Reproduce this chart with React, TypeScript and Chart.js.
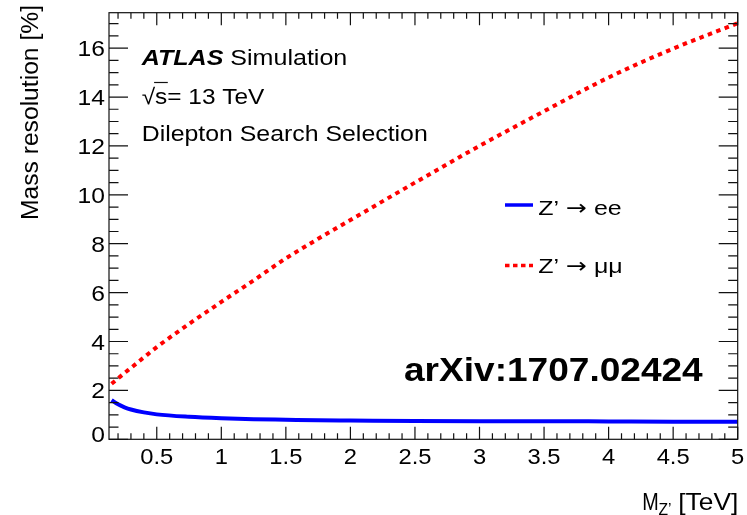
import React, { useEffect, useRef } from "react";
import { Chart, registerables } from "chart.js";

Chart.register(...registerables);

// ---- data ----
const massTeV = [0.15, 0.2, 0.25, 0.3, 0.4, 0.5, 0.75, 1.0, 1.25, 1.5, 1.75, 2.0, 2.5, 3.0, 3.5, 4.0, 4.5, 5.0];
const resEE = [1.6, 1.43, 1.31, 1.22, 1.1, 1.02, 0.92, 0.86, 0.82, 0.8, 0.78, 0.77, 0.75, 0.74, 0.74, 0.73, 0.72, 0.72];
const resMuMu = [2.27, 2.49, 2.71, 2.92, 3.35, 3.77, 4.72, 5.62, 6.5, 7.4, 8.2, 8.97, 10.5, 12.0, 13.42, 14.8, 15.98, 17.02];
const seriesLabels = ["Z\u2019 \u2192 ee", "Z\u2019 \u2192 \u03bc\u03bc"];
const legendParts = [
  ["Z\u2019 ", "\u2192", " ee"],
  ["Z\u2019 ", "\u2192", " \u03bc\u03bc"],
];
const xTickValues = [0.5, 1, 1.5, 2, 2.5, 3, 3.5, 4, 4.5, 5];
const xTickLabels = ["0.5", "1", "1.5", "2", "2.5", "3", "3.5", "4", "4.5", "5"];
const yTickValues = [0, 2, 4, 6, 8, 10, 12, 14, 16];
const yTickLabels = ["0", "2", "4", "6", "8", "10", "12", "14", "16"];
const xMinorStep = 0.1;
const yMinorStep = 0.5;
const xRange = [0.13, 5.0];
const yRange = [0, 17.45];

const FONT = '"Liberation Sans", Arial, Helvetica, sans-serif';
const ARROW_FONT = '"DejaVu Sans", sans-serif';
const BLUE = "#0000ff";
const RED = "#ff0000";

type Part = { text: string; font: string };

function drawParts(ctx: CanvasRenderingContext2D, parts: Part[], x: number, y: number, opts: { width?: number; sx?: number; align?: string }) {
  ctx.save();
  let total = 0;
  const ws = parts.map((p) => {
    ctx.font = p.font;
    const w = ctx.measureText(p.text).width;
    total += w;
    return w;
  });
  const s = opts.width ? opts.width / total : opts.sx || 1;
  ctx.translate(x, y);
  ctx.scale(s, 1);
  const align = opts.align || "left";
  let cx = align === "left" ? 0 : align === "right" ? -total : -total / 2;
  ctx.textAlign = "left";
  ctx.textBaseline = "alphabetic";
  parts.forEach((p, i) => {
    ctx.font = p.font;
    ctx.fillText(p.text, cx, 0);
    cx += ws[i];
  });
  ctx.restore();
  return s;
}

const rootDecor = {
  id: "rootDecor",
  afterDraw(chart: any) {
    const { ctx, chartArea: a, scales } = chart;
    const xs = scales.x;
    const ys = scales.y;
    ctx.save();
    ctx.fillStyle = "#000";
    ctx.strokeStyle = "#111";
    ctx.lineWidth = 1.2;
    // frame
    ctx.strokeRect(a.left, a.top, a.right - a.left, a.bottom - a.top);
    // x ticks (bottom & top)
    ctx.beginPath();
    const i0 = Math.ceil(xs.min / xMinorStep - 1e-9);
    for (let i = i0; i * xMinorStep <= xs.max + 1e-9; i++) {
      const v = i * xMinorStep;
      const px = xs.getPixelForValue(v);
      const major = xTickValues.some((t) => Math.abs(t - v) < 1e-6);
      const len = major ? 12.5 : 6;
      ctx.moveTo(px, a.bottom);
      ctx.lineTo(px, a.bottom - len);
      ctx.moveTo(px, a.top);
      ctx.lineTo(px, a.top + len);
    }
    // y ticks (left & right)
    const j0 = Math.ceil(ys.min / yMinorStep - 1e-9);
    for (let j = j0; j * yMinorStep <= ys.max + 1e-9; j++) {
      const v = j * yMinorStep;
      const py = ys.getPixelForValue(v);
      const major = yTickValues.some((t) => Math.abs(t - v) < 1e-6);
      const len = major ? 19 : 9.5;
      ctx.moveTo(a.left, py);
      ctx.lineTo(a.left + len, py);
      ctx.moveTo(a.right, py);
      ctx.lineTo(a.right - len, py);
    }
    ctx.stroke();

    // tick labels
    const tickFont = `22px ${FONT}`;
    xTickValues.forEach((v, i) => {
      const px = xs.getPixelForValue(v);
      drawParts(ctx, [{ text: xTickLabels[i], font: tickFont }], px, a.bottom + 24.5, { sx: 1.08, align: "center" });
    });
    yTickValues.forEach((v, i) => {
      const py = ys.getPixelForValue(v);
      const off = v === 0 ? 2.5 : 8;
      drawParts(ctx, [{ text: yTickLabels[i], font: tickFont }], a.left - 4, py + off, { sx: 1.12, align: "right" });
    });

    // axis titles
    const titleFont = `24px ${FONT}`;
    const subFont = `16px ${FONT}`;
    drawParts(ctx, [{ text: "M", font: titleFont }], 642.3, 510, { width: 16.5 });
    drawParts(ctx, [{ text: "Z\u2019", font: subFont }], 658.5, 515, { width: 13 });
    drawParts(ctx, [{ text: "[TeV]", font: titleFont }], 678.3, 510, { width: 60 });

    ctx.save();
    ctx.translate(37.5, 220);
    ctx.rotate(-Math.PI / 2);
    drawParts(ctx, [{ text: "Mass resolution [%]", font: `23px ${FONT}` }], 0, 0, { width: 215 });
    ctx.restore();

    // ATLAS labels
    const labFont = `22px ${FONT}`;
    drawParts(ctx, [
      { text: "ATLAS", font: `italic bold 22px ${FONT}` },
      { text: " Simulation", font: labFont },
    ], 141.7, 64.5, { width: 205.6 });

    const s = drawParts(ctx, [{ text: "\u221as= 13 TeV", font: labFont }], 141.7, 103.5, { width: 122.6 });
    ctx.font = labFont;
    const wRad = ctx.measureText("\u221a").width * s;
    const wS = ctx.measureText("\u221as").width * s;
    ctx.lineWidth = 1.2;
    ctx.beginPath();
    ctx.moveTo(141.7 + wRad - 1, 103.5 - 21);
    ctx.lineTo(141.7 + wS + 0.5, 103.5 - 21);
    ctx.stroke();

    drawParts(ctx, [{ text: "Dilepton Search Selection", font: labFont }], 141.7, 140.5, { width: 286 });

    // legend
    ctx.lineWidth = 3.5;
    ctx.strokeStyle = BLUE;
    ctx.beginPath();
    ctx.moveTo(505, 205);
    ctx.lineTo(533, 205);
    ctx.stroke();
    ctx.strokeStyle = RED;
    ctx.setLineDash([4.5, 3.5]);
    ctx.beginPath();
    ctx.moveTo(505, 265.5);
    ctx.lineTo(533, 265.5);
    ctx.stroke();
    ctx.setLineDash([]);
    ctx.fillStyle = "#000";
    const legFont = `21px ${FONT}`;
    const arrFont = `21px ${ARROW_FONT}`;
    const legY = [214.5, 272.5];
    const legW = [83.4, 84.4];
    legendParts.forEach((lp, k) => {
      drawParts(ctx, [
        { text: lp[0], font: legFont },
        { text: lp[1], font: arrFont },
        { text: lp[2], font: legFont },
      ], 538.3, legY[k], { width: legW[k] });
    });

    // arXiv
    drawParts(ctx, [{ text: "arXiv:1707.02424", font: `bold 33px ${FONT}` }], 404, 381, { width: 298.7 });

    ctx.restore();
  },
};

export default function App() {
  const ref = useRef<HTMLCanvasElement | null>(null);
  useEffect(() => {
    document.body.style.margin = "0";
    const canvas = ref.current!;
    const chart = new Chart(canvas, {
      type: "line",
      data: {
        datasets: [
          {
            label: seriesLabels[0],
            data: massTeV.map((m, i) => ({ x: m, y: resEE[i] })),
            borderColor: BLUE,
            borderWidth: 4,
            pointRadius: 0,
            cubicInterpolationMode: "monotone",
            fill: false,
          },
          {
            label: seriesLabels[1],
            data: massTeV.map((m, i) => ({ x: m, y: resMuMu[i] })),
            borderColor: RED,
            borderWidth: 4,
            borderDash: [4.5, 4.5],
            pointRadius: 0,
            cubicInterpolationMode: "monotone",
            fill: false,
          },
        ],
      },
      options: {
        animation: false,
        responsive: false,
        maintainAspectRatio: false,
        devicePixelRatio: 1,
        layout: { padding: { left: 109, top: 12.7, right: 9.3, bottom: 75.7 } },
        plugins: { legend: { display: false }, tooltip: { enabled: false } },
        scales: {
          x: { type: "linear", min: xRange[0], max: xRange[1], display: false },
          y: { type: "linear", min: yRange[0], max: yRange[1], display: false },
        },
      },
      plugins: [rootDecor],
    });
    return () => chart.destroy();
  }, []);
  return (
    <div style={{ position: "absolute", left: 0, top: 0, width: 747, height: 515, background: "#fff" }}>
      <canvas ref={ref} width={747} height={515} style={{ display: "block", width: 747, height: 515 }} />
    </div>
  );
}
